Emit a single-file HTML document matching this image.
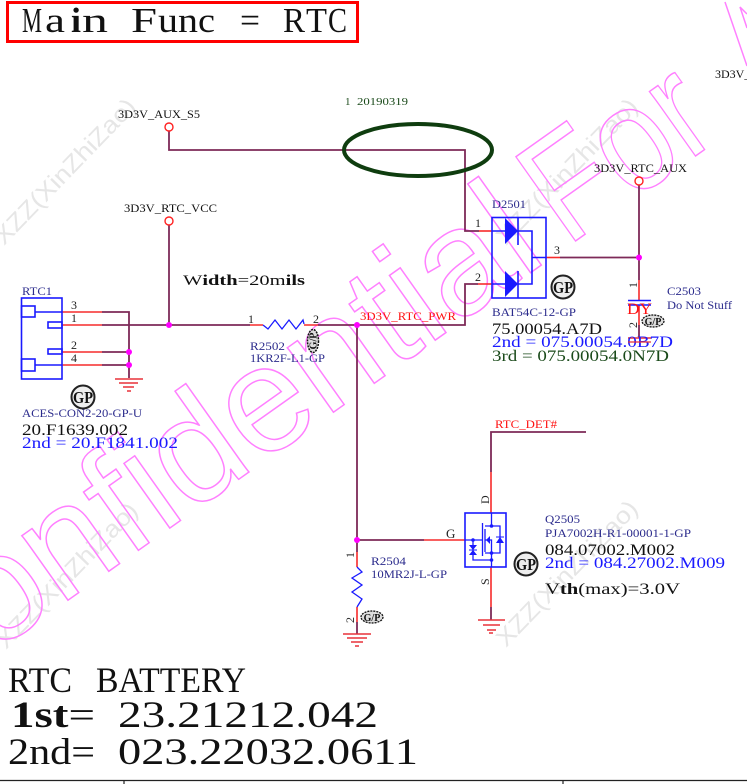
<!DOCTYPE html>
<html lang="en">
<head>
<meta charset="utf-8">
<title>RTC schematic</title>
<style>
html,body{margin:0;padding:0;background:#fff;}
svg{display:block;filter:blur(.3px);}
text{font-family:"Liberation Serif",serif;}
.w{fill:none;stroke:#7d2a58;stroke-width:1.8;}
.r{fill:none;stroke:#f62b2b;stroke-width:1.6;}
.b{fill:none;stroke:#1a1aff;stroke-width:1.6;}
.g{fill:none;stroke:#e8323a;stroke-width:1.4;}
.n{fill:#2b2b8c;font-size:12px;}
.k{fill:#111;font-size:12px;}
.p{fill:#222;font-size:12px;}
.bl{fill:#1a1aff;font-size:16px;}
.bk{fill:#111;font-size:16px;}
.j{fill:#f0f;}
.gp{font-weight:bold;fill:#111;text-anchor:middle;}
.sans{font-family:"Liberation Sans",sans-serif;}
.t{font-size:35px;fill:#111;}
</style>
</head>
<body>
<svg width="747" height="784" viewBox="0 0 747 784" xmlns="http://www.w3.org/2000/svg">
<rect width="747" height="784" fill="#fff"/>

<!-- gray watermarks -->
<g fill="#e6e6e6" font-size="24">
<text class="sans" transform="translate(4,246) rotate(-46)" textLength="192" lengthAdjust="spacingAndGlyphs">XZZ(XinZhiZao)</text>
<text class="sans" transform="translate(506,246) rotate(-46)" textLength="192" lengthAdjust="spacingAndGlyphs">XZZ(XinZhiZao)</text>
<text class="sans" transform="translate(6,650) rotate(-46)" textLength="192" lengthAdjust="spacingAndGlyphs">XZZ(XinZhiZao)</text>
<text class="sans" transform="translate(506,648) rotate(-46)" textLength="192" lengthAdjust="spacingAndGlyphs">XZZ(XinZhiZao)</text>
</g>

<!-- pink watermark -->
<g fill="none" stroke="#ff80ff" stroke-width="1.5">
<text class="sans" transform="translate(-97,717) rotate(-35.3)" font-size="150">Confidential</text>
<text class="sans" transform="translate(567,247) rotate(-35.3)" font-size="150" textLength="191" lengthAdjust="spacingAndGlyphs">For</text>
<path d="M725 2L747 66M747 14L740 7L747 28"/>
</g>

<!-- title -->
<rect x="7.5" y="2.5" width="350" height="39" fill="#fff" stroke="#f00" stroke-width="3"/>
<text class="t" x="22" y="32" textLength="20" lengthAdjust="spacingAndGlyphs">M</text>
<text class="t" x="45" y="32" textLength="20" lengthAdjust="spacingAndGlyphs">a</text>
<text class="t" x="71" y="32" font-weight="bold" textLength="10" lengthAdjust="spacingAndGlyphs">i</text>
<text class="t" x="82" y="32" textLength="26" lengthAdjust="spacingAndGlyphs">n</text>
<text class="t" x="131" y="32" textLength="26" lengthAdjust="spacingAndGlyphs">F</text>
<text class="t" x="158" y="32" textLength="20" lengthAdjust="spacingAndGlyphs">u</text>
<text class="t" x="178" y="32" textLength="20" lengthAdjust="spacingAndGlyphs">n</text>
<text class="t" x="198" y="32" textLength="17" lengthAdjust="spacingAndGlyphs">c</text>
<text class="t" x="240" y="32" textLength="20" lengthAdjust="spacingAndGlyphs">=</text>
<text class="t" x="283" y="32" textLength="22" lengthAdjust="spacingAndGlyphs">R</text>
<text class="t" x="306" y="32" textLength="21" lengthAdjust="spacingAndGlyphs">T</text>
<text class="t" x="328" y="32" textLength="19" lengthAdjust="spacingAndGlyphs">C</text>

<!-- top right -->
<text x="715" y="78" class="k">3D3V_</text>

<!-- wires -->
<path class="w" d="M169 131V150H465V231H479"/>
<path class="r" d="M479 231H492"/>
<path class="w" d="M169 225V325"/>
<path class="w" d="M102 325H250"/>
<path class="w" d="M102 312H129V378M102 352H129M102 365H129"/>
<path class="r" d="M62 312H102M62 325H102M62 352H102M62 365H102"/>
<path class="r" d="M250 325H263M304 325H318"/>
<path class="w" d="M318 325H465V284H478"/>
<path class="r" d="M478 284H492"/>
<path class="r" d="M546 257.500H560"/>
<path class="w" d="M560 257.500H639M639 185V280"/>
<path class="r" d="M639 280V300M639 305V325"/>
<path class="w" d="M639 325V338"/>
<path class="w" d="M357 325V552M357 540H424"/>
<path class="r" d="M424 540H465"/>
<path class="r" d="M357 552V567M357 607V622"/>
<path class="w" d="M357 622V634"/>
<path class="w" d="M491 472V432H586"/>
<path class="r" d="M491 472V513M491 567V607"/>
<path class="w" d="M491 607V620"/>

<!-- net terminals -->
<circle cx="169" cy="127" r="4" fill="#fff" stroke="#f22" stroke-width="1.4"/>
<circle cx="169" cy="221" r="4" fill="#fff" stroke="#f22" stroke-width="1.4"/>
<circle cx="639" cy="181" r="4" fill="#fff" stroke="#f22" stroke-width="1.4"/>

<!-- junctions -->
<circle class="j" cx="169" cy="325" r="3"/>
<circle class="j" cx="129" cy="352" r="3"/>
<circle class="j" cx="129" cy="365" r="3"/>
<circle class="j" cx="357" cy="325" r="3"/>
<circle class="j" cx="357" cy="540" r="3"/>
<circle class="j" cx="639" cy="257.500" r="3"/>

<!-- ground symbols -->
<path class="g" d="M115 379H143M119 383H138M123 387H134M127 391H131"/>
<path class="g" d="M343 634H371M347 638H367M351 642H363M355 646H359"/>
<path class="g" d="M478 620H505M483 625H500M487 630H496M489 633H493"/>
<path class="g" d="M628 338H651"/>

<!-- green ellipse -->
<ellipse cx="418" cy="150" rx="74" ry="26" fill="none" stroke="#0f3d0f" stroke-width="4"/>
<text x="345" y="105" font-size="11" fill="#1a4a1a">1</text>
<text x="357" y="105" font-size="11" fill="#1a4a1a" textLength="51" lengthAdjust="spacingAndGlyphs">20190319</text>

<!-- RTC1 connector -->
<rect class="b" x="21.500" y="298" width="40.500" height="81"/>
<rect class="b" x="21.500" y="306" width="13.500" height="11"/>
<rect class="b" x="48" y="322" width="14" height="6"/>
<rect class="b" x="48" y="349" width="14" height="5"/>
<rect class="b" x="21.500" y="359" width="13.500" height="12"/>
<path class="b" d="M35 312H62M35 365H62"/>

<!-- R2502 / R2504 -->
<path class="b" d="M263 325l5 4 7-9 7 9 7-9 7 9 7-9 1 4" style="stroke-width:1.3"/>
<path class="b" d="M357 567l5 5-10 6 10 7-10 7 10 7-5 8" style="stroke-width:1.3"/>

<!-- D2501 -->
<rect class="b" x="492" y="217.500" width="54" height="80.500"/>
<path fill="#1a1aff" d="M505 218L518 231L505 244ZM505 271L518 284L505 297Z"/>
<path class="b" d="M518 217V245M518 271V298M492 231H505M492 284H505M518 231H532V284H518M532 257.500H546"/>

<!-- C2503 -->
<path class="b" d="M628 300.500H651M628 305H651"/>
<text x="627" y="314" font-size="16" fill="#f11" textLength="25" lengthAdjust="spacingAndGlyphs">DY</text>

<!-- Q2505 -->
<rect class="b" x="465" y="513" width="41" height="54"/>
<path class="b" style="stroke-width:1.3" d="M482.500 523V556M485 529V552M465 540H482M491.500 513V526H485M491.500 526H500V553H485M485 540H491.500V567M473 540V560H491.500"/>
<path fill="#1a1aff" d="M486 540l4-4v8ZM496 543h8l-4-6ZM469 545h8l-4 5ZM469 555h8l-4-5Z"/>
<path class="b" style="stroke-width:1" d="M496 537H504M469 550H477"/>
<circle cx="491.500" cy="526" r="1.800" fill="#1a1aff"/>
<circle cx="491.500" cy="553" r="1.800" fill="#1a1aff"/>
<circle cx="491.500" cy="560" r="1.800" fill="#1a1aff"/>
<circle cx="473" cy="540" r="1.800" fill="#1a1aff"/>

<!-- GP badges -->
<g>
<circle cx="83" cy="397" r="11.500" fill="#eee" stroke="#222" stroke-width="2"/>
<text class="gp" x="83" y="403" font-size="17" textLength="20" lengthAdjust="spacingAndGlyphs">GP</text>
<circle cx="563" cy="287" r="11.500" fill="#eee" stroke="#222" stroke-width="2"/>
<text class="gp" x="563" y="293" font-size="17" textLength="20" lengthAdjust="spacingAndGlyphs">GP</text>
<circle cx="526" cy="564" r="11.500" fill="#eee" stroke="#222" stroke-width="2"/>
<text class="gp" x="526" y="570" font-size="17" textLength="20" lengthAdjust="spacingAndGlyphs">GP</text>
<ellipse cx="653" cy="321" rx="11" ry="6" fill="#ddd" stroke="#111" stroke-width="1.300" stroke-dasharray="2 1"/>
<text class="gp" x="653" y="325" font-size="10">G/P</text>
<ellipse cx="372" cy="617" rx="11" ry="6" fill="#ddd" stroke="#111" stroke-width="1.300" stroke-dasharray="2 1"/>
<text class="gp" x="372" y="621" font-size="10">G/P</text>
<ellipse cx="313" cy="341" rx="5.500" ry="11.500" fill="#ddd" stroke="#111" stroke-width="1.500" stroke-dasharray="2 1"/>
<text class="gp" transform="translate(316.500,341) rotate(-90)" x="0" y="0" font-size="10">G/P</text>
</g>

<!-- net labels -->
<text x="118" y="118" class="k" textLength="82" lengthAdjust="spacingAndGlyphs">3D3V_AUX_S5</text>
<text x="124" y="212" class="k" textLength="93" lengthAdjust="spacingAndGlyphs">3D3V_RTC_VCC</text>
<text x="594" y="172" class="k" textLength="93" lengthAdjust="spacingAndGlyphs">3D3V_RTC_AUX</text>
<text x="360" y="320" font-size="12" fill="#f11" textLength="96" lengthAdjust="spacingAndGlyphs">3D3V_RTC_PWR</text>
<text x="495" y="428" font-size="12" fill="#f11" textLength="62" lengthAdjust="spacingAndGlyphs">RTC_DET#</text>
<text x="183" y="285" font-size="15" fill="#111" textLength="122" lengthAdjust="spacingAndGlyphs">W<tspan font-weight="bold">idth</tspan>=20m<tspan font-weight="bold">ils</tspan></text>

<!-- pin numbers -->
<g>
<text x="71" y="309" class="p">3</text>
<text x="71" y="322" class="p">1</text>
<text x="71" y="349" class="p">2</text>
<text x="71" y="362" class="p">4</text>
<text x="248" y="323" class="p">1</text>
<text x="313" y="323" class="p">2</text>
<text x="475" y="227" class="p">1</text>
<text x="475" y="281" class="p">2</text>
<text x="554" y="254" class="p">3</text>
<text x="446" y="538" class="p" style="font-size:13px">G</text>
<text transform="translate(489,504) rotate(-90)" class="p">D</text>
<text transform="translate(489,585) rotate(-90)" class="p">S</text>
<text transform="translate(354,558) rotate(-90)" class="p">1</text>
<text transform="translate(354,623) rotate(-90)" class="p">2</text>
<text transform="translate(637,288) rotate(-90)" class="p">1</text>
<text transform="translate(637,328) rotate(-90)" class="p">2</text>
</g>

<!-- part labels -->
<text x="22" y="295" class="n" textLength="30" lengthAdjust="spacingAndGlyphs">RTC1</text>
<text x="22" y="417" class="n" textLength="120" lengthAdjust="spacingAndGlyphs">ACES-CON2-20-GP-U</text>
<text x="22" y="435" class="bk" textLength="106" lengthAdjust="spacingAndGlyphs">20.F1639.002</text>
<text x="22" y="448" class="bl" textLength="156" lengthAdjust="spacingAndGlyphs">2nd = 20.F1841.002</text>
<text x="250" y="350" class="n" textLength="35" lengthAdjust="spacingAndGlyphs">R2502</text>
<text x="250" y="362" class="n" textLength="75" lengthAdjust="spacingAndGlyphs">1KR2F-L1-GP</text>
<text x="492" y="208" class="n" textLength="34" lengthAdjust="spacingAndGlyphs">D2501</text>
<text x="492" y="316" class="n" textLength="84" lengthAdjust="spacingAndGlyphs">BAT54C-12-GP</text>
<text x="492" y="334" class="bk" textLength="110" lengthAdjust="spacingAndGlyphs">75.00054.A7D</text>
<text x="492" y="347" class="bl" textLength="181" lengthAdjust="spacingAndGlyphs">2nd = 075.00054.0B7D</text>
<text x="492" y="361" font-size="16" fill="#1a4a1a" textLength="177" lengthAdjust="spacingAndGlyphs">3rd = 075.00054.0N7D</text>
<path d="M628 342H651" stroke="#e8323a" stroke-width="1.200"/>
<text x="667" y="295" class="n" textLength="34" lengthAdjust="spacingAndGlyphs">C2503</text>
<text x="667" y="309" class="n" textLength="65" lengthAdjust="spacingAndGlyphs">Do Not Stuff</text>
<text x="371" y="565" class="n" textLength="35" lengthAdjust="spacingAndGlyphs">R2504</text>
<text x="371" y="578" class="n" textLength="76" lengthAdjust="spacingAndGlyphs">10MR2J-L-GP</text>
<text x="545" y="523" class="n" textLength="35" lengthAdjust="spacingAndGlyphs">Q2505</text>
<text x="545" y="537" class="n" textLength="146" lengthAdjust="spacingAndGlyphs">PJA7002H-R1-00001-1-GP</text>
<text x="545" y="555" class="bk" textLength="130" lengthAdjust="spacingAndGlyphs">084.07002.M002</text>
<text x="545" y="568" class="bl" textLength="180" lengthAdjust="spacingAndGlyphs">2nd = 084.27002.M009</text>
<text x="545" y="594" font-size="16" fill="#111" textLength="135" lengthAdjust="spacingAndGlyphs">V<tspan font-weight="bold">th</tspan>(max)=3.0V</text>

<!-- battery text -->
<text x="8" y="692" font-size="36" fill="#111" textLength="64" lengthAdjust="spacingAndGlyphs">RTC</text>
<text x="96" y="692" font-size="36" fill="#111" textLength="150" lengthAdjust="spacingAndGlyphs">BATTERY</text>
<text x="11" y="727" font-size="37" fill="#111" textLength="84" lengthAdjust="spacingAndGlyphs"><tspan font-weight="bold">1st</tspan>=</text>
<text x="118" y="727" font-size="37" fill="#111" textLength="260" lengthAdjust="spacingAndGlyphs">23.21212.042</text>
<text x="8" y="764" font-size="37" fill="#111" textLength="87" lengthAdjust="spacingAndGlyphs">2nd=</text>
<text x="118" y="764" font-size="37" fill="#111" textLength="300" lengthAdjust="spacingAndGlyphs">023.22032.0611</text>

<!-- bottom border -->
<path d="M0 780.500H747M124 780.500V784M563 780.500V784" fill="none" stroke="#222" stroke-width="1.200"/>
</svg>
</body>
</html>
